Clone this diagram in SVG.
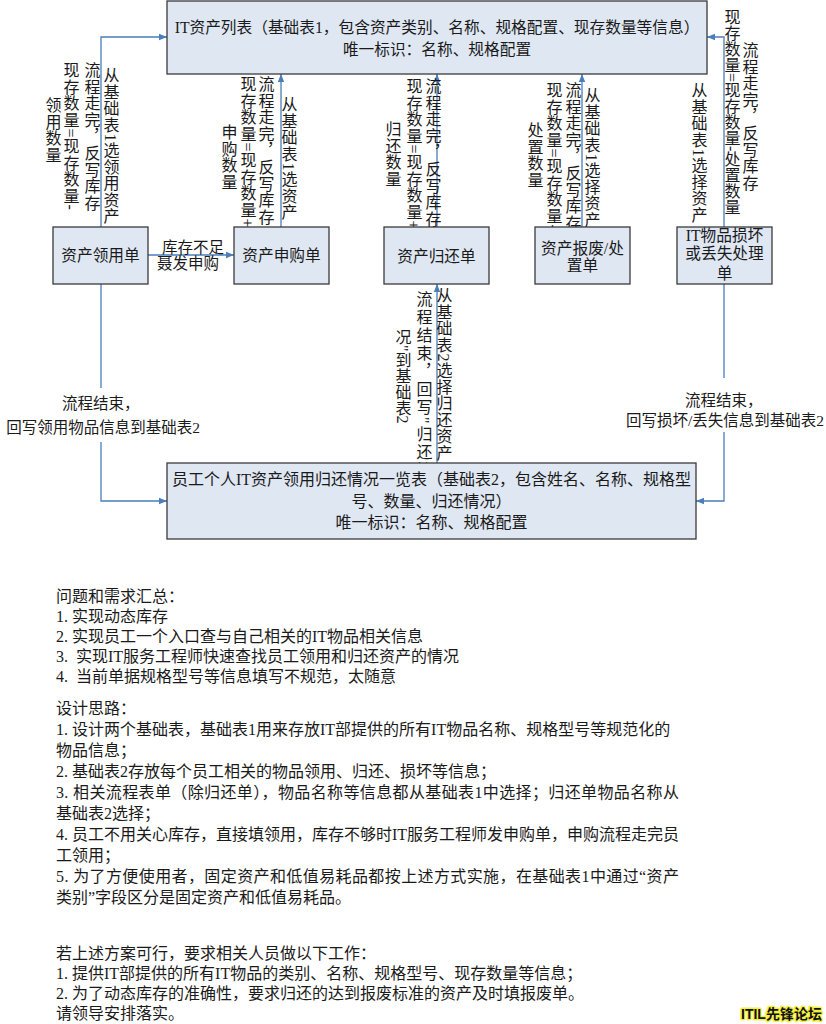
<svg xmlns="http://www.w3.org/2000/svg" width="826" height="1024" viewBox="0 0 826 1024">
<style>
.t{font-family:"Liberation Serif","Noto Sans CJK SC",serif;fill:#1a1a1a}
.box{fill:#dfe7f3;stroke:#3a3a3a;stroke-width:1.3}
.c{fill:none;stroke:#4a7ebb;stroke-width:1.3}
.v{writing-mode:vertical-rl;font-size:16px;letter-spacing:0.6px}
.n{font-size:15.7px;text-anchor:middle}
.b{font-size:16px;text-anchor:middle}
.p{font-size:16px}
.e{font-size:15.5px}
.wm{font-family:"Liberation Sans","Noto Sans CJK SC",sans-serif;font-weight:bold;font-size:14px;fill:#111;stroke:#f4f040;stroke-width:3px;paint-order:stroke;stroke-linejoin:round}
</style>
<defs>
<marker id="ah" viewBox="0 0 10 10" refX="10" refY="5" markerWidth="8" markerHeight="8" markerUnits="userSpaceOnUse" orient="auto">
<path d="M0,1 L10,5 L0,9 z" fill="#4a7ebb"/>
</marker>
</defs>

<g id="connectors">
<path class="c" d="M101,227 V37 H167" marker-end="url(#ah)"/>
<path class="c" d="M148,255 H234" marker-end="url(#ah)"/>
<path class="c" d="M281,227 V74" marker-end="url(#ah)"/>
<path class="c" d="M437,227 V74" marker-end="url(#ah)"/>
<path class="c" d="M582,227 V74" marker-end="url(#ah)"/>
<path class="c" d="M724,227 V37 H707" marker-end="url(#ah)"/>
<path class="c" d="M437,463 V284" marker-end="url(#ah)"/>
<path class="c" d="M101,284 V388"/>
<path class="c" d="M101,442 V501 H167" marker-end="url(#ah)"/>
<path class="c" d="M724,284 V378"/>
<path class="c" d="M724,432 V501 H696" marker-end="url(#ah)"/>
</g>

<g id="edge-labels">
<text class="t v" x="110" y="67">从基础表1选领用资产</text>
<text class="t v" x="91" y="62">流程走完，反写库存</text>
<text class="t v" x="70" y="62">现存数量=现存数量-</text>
<text class="t v" x="52" y="97">领用数量</text>

<text class="t e" x="193" y="253" text-anchor="middle">库存不足</text>
<text class="t e" x="188" y="269" text-anchor="middle">聂发申购</text>

<text class="t v" x="288" y="96">从基础表1选资产</text>
<text class="t v" x="265" y="76">流程走完，反写库存</text>
<text class="t v" x="247" y="76">现存数量=现存数量+</text>
<text class="t v" x="228" y="124">申购数量</text>

<text class="t v" x="432" y="78">流程走完，反写库存</text>
<text class="t v" x="413" y="78">现存数量=现存数量+</text>
<text class="t v" x="392" y="121">归还数量</text>

<text class="t v" x="591" y="87">从基础表1选择资产</text>
<text class="t v" x="572" y="82">流程走完，反写库存</text>
<text class="t v" x="553" y="82">现存数量=现存数量-</text>
<text class="t v" x="534" y="122">处置数量</text>

<text class="t v" x="749" y="42">流程走完，反写库存</text>
<text class="t v" x="731" y="9" style="letter-spacing:0">现存数量=现存数量-处置数量</text>
<text class="t v" x="698" y="82">从基础表1选择资产</text>

<text class="t v" x="443" y="287">从基础表2选择归还资产</text>
<text class="t v" x="423" y="291" style="letter-spacing:2px">流程结束，回写"归还情</text>
<text class="t v" x="402" y="329" style="letter-spacing:0">况"到基础表2</text>

<text class="t e" x="62" y="409">流程结束，</text>
<text class="t e" x="200" y="433" text-anchor="end">回写领用物品信息到基础表2</text>
<text class="t e" x="685" y="406">流程结束，</text>
<text class="t e" x="824" y="426" text-anchor="end">回写损坏/丢失信息到基础表2</text>
</g>

<g id="n-table1">
<rect class="box" x="167" y="1" width="540" height="73"/>
<text class="t n" x="437" y="33">IT资产列表（基础表1，包含资产类别、名称、规格配置、现存数量等信息）</text>
<text class="t n" x="437" y="55">唯一标识：名称、规格配置</text>
</g>

<g id="n-lingyong">
<rect class="box" x="53" y="227" width="95" height="57"/>
<text class="t n" x="100.5" y="261">资产领用单</text>
</g>

<g id="n-shengou">
<rect class="box" x="234" y="227" width="95" height="57"/>
<text class="t n" x="281.5" y="261">资产申购单</text>
</g>

<g id="n-guihuan">
<rect class="box" x="384" y="227" width="105" height="57"/>
<text class="t n" x="436.5" y="262">资产归还单</text>
</g>

<g id="n-baofei">
<rect class="box" x="535" y="227" width="95" height="57"/>
<text class="t n" x="582.5" y="254">资产报废/处</text>
<text class="t n" x="582.5" y="271">置单</text>
</g>

<g id="n-sunhuai">
<rect class="box" x="677" y="227" width="95" height="57"/>
<text class="t n" x="724.5" y="241">IT物品损坏</text>
<text class="t n" x="724.5" y="259">或丢失处理</text>
<text class="t n" x="724.5" y="279">单</text>
</g>

<g id="n-table2">
<rect class="box" x="167" y="463" width="529" height="76"/>
<text class="t b" x="431.5" y="485">员工个人IT资产领用归还情况一览表（基础表2，包含姓名、名称、规格型</text>
<text class="t b" x="431.5" y="507">号、数量、归还情况）</text>
<text class="t b" x="431.5" y="528">唯一标识：名称、规格配置</text>
</g>

<g id="notes">
<text class="t p" x="56" y="602">问题和需求汇总：</text>
<text class="t p" x="56" y="622">1. 实现动态库存</text>
<text class="t p" x="56" y="642">2. 实现员工一个入口查与自己相关的IT物品相关信息</text>
<text class="t p" x="56" y="662" xml:space="preserve">3.  实现IT服务工程师快速查找员工领用和归还资产的情况</text>
<text class="t p" x="56" y="682" xml:space="preserve">4.  当前单据规格型号等信息填写不规范，太随意</text>

<text class="t p" x="56" y="714">设计思路：</text>
<text class="t p" x="56" y="735">1. 设计两个基础表，基础表1用来存放IT部提供的所有IT物品名称、规格型号等规范化的</text>
<text class="t p" x="56" y="756">物品信息；</text>
<text class="t p" x="56" y="777">2. 基础表2存放每个员工相关的物品领用、归还、损坏等信息；</text>
<text class="t p" x="56" y="798" textLength="623" lengthAdjust="spacing">3. 相关流程表单（除归还单），物品名称等信息都从基础表1中选择；归还单物品名称从</text>
<text class="t p" x="56" y="819">基础表2选择；</text>
<text class="t p" x="56" y="840" textLength="623" lengthAdjust="spacing">4. 员工不用关心库存，直接填领用，库存不够时IT服务工程师发申购单，申购流程走完员</text>
<text class="t p" x="56" y="861">工领用；</text>
<text class="t p" x="56" y="882" textLength="623" lengthAdjust="spacing">5. 为了方便使用者，固定资产和低值易耗品都按上述方式实施，在基础表1中通过“资产</text>
<text class="t p" x="56" y="903">类别”字段区分是固定资产和低值易耗品。</text>

<text class="t p" x="56" y="959">若上述方案可行，要求相关人员做以下工作：</text>
<text class="t p" x="56" y="979">1. 提供IT部提供的所有IT物品的类别、名称、规格型号、现存数量等信息；</text>
<text class="t p" x="56" y="999">2. 为了动态库存的准确性，要求归还的达到报废标准的资产及时填报废单。</text>
<text class="t p" x="56" y="1019">请领导安排落实。</text>
</g>

<g id="watermark">
<text class="wm" x="741" y="1019">ITIL先锋论坛</text>
</g>
</svg>
